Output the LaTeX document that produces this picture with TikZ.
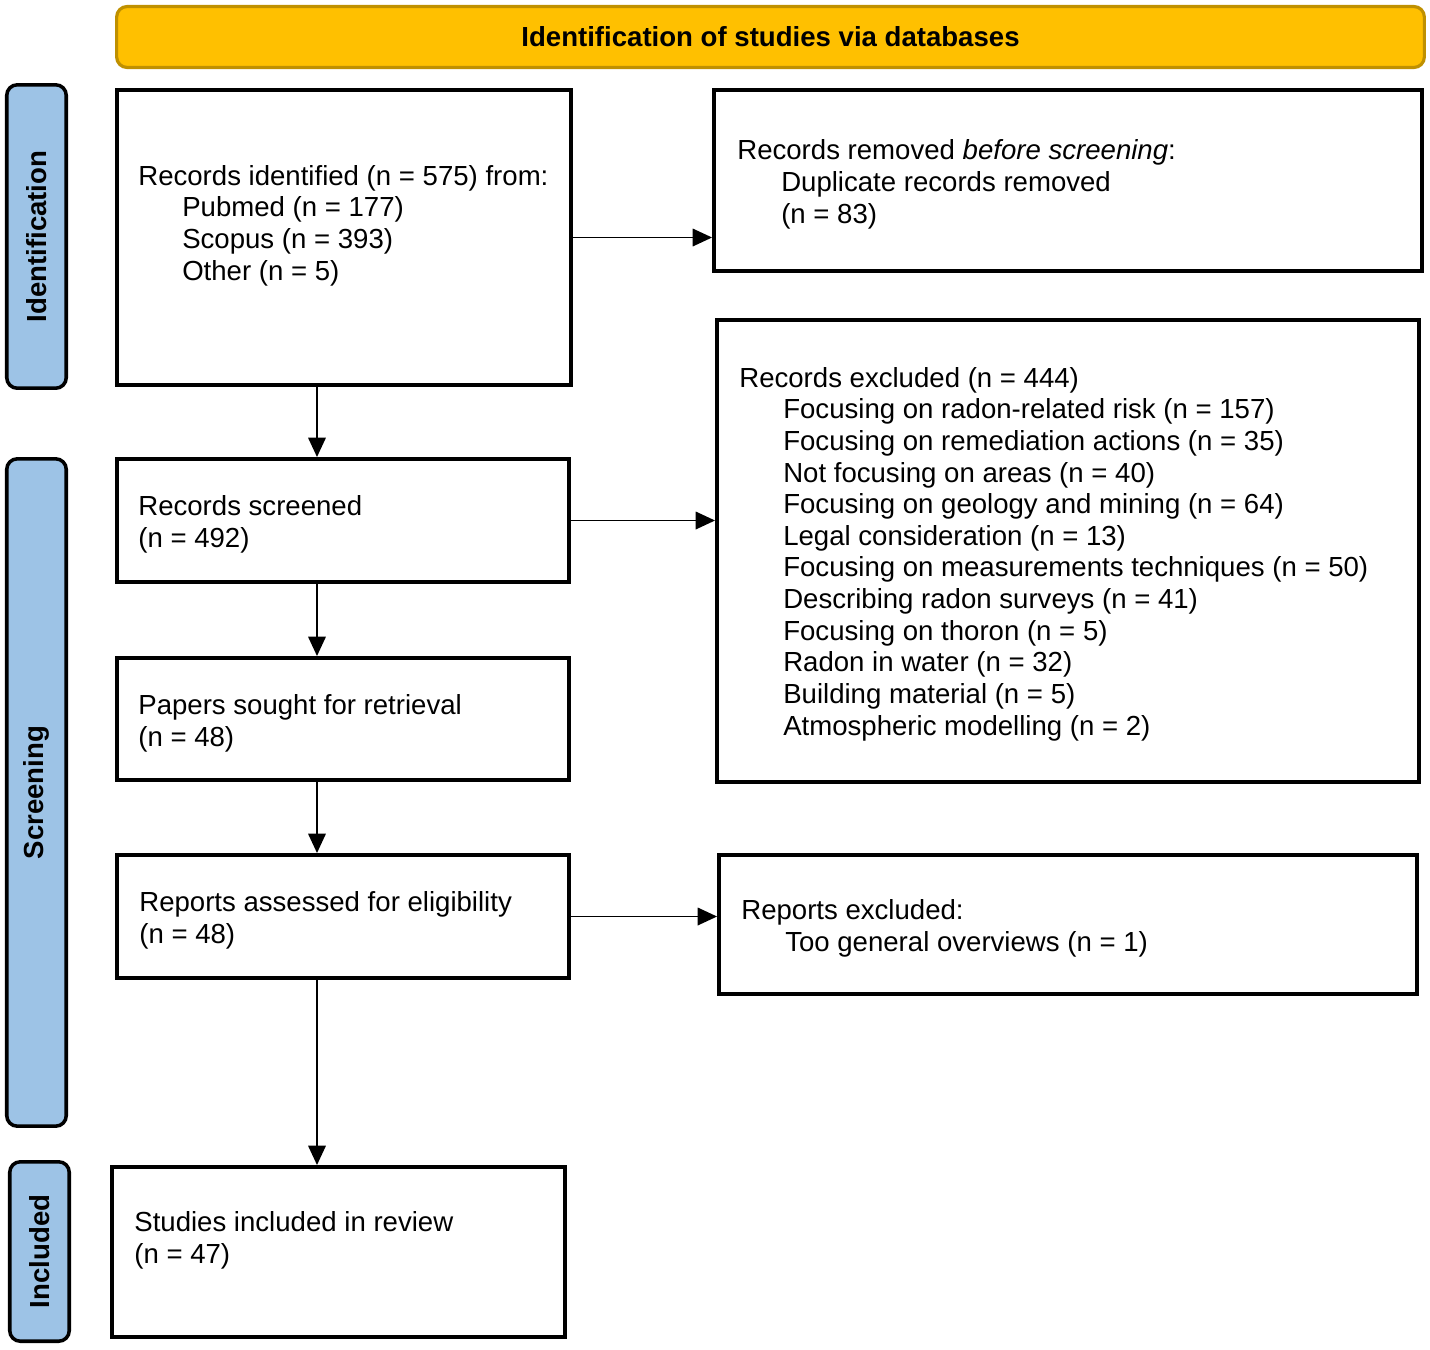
\documentclass[tikz,border=0pt]{standalone}
\usepackage{fontspec}
\setmainfont{Liberation Sans}
\usetikzlibrary{arrows.meta}
\definecolor{hdryellow}{RGB}{255,192,0}
\definecolor{hdrborder}{RGB}{191,144,0}
\definecolor{phaseblue}{RGB}{157,195,230}
\newcommand{\subind}{\hspace*{25pt}}
\begin{document}
\begin{tikzpicture}[x=0.02cm, y=-0.02cm, font=\fontsize{15.7}{18}\selectfont,
	box/.style={draw, line width=2.3pt, inner sep=0pt},
	phase/.style={draw, fill=phaseblue, line width=2pt, rounded corners=6pt, inner sep=0pt, rotate=90, font=\fontsize{15.7}{18}\selectfont\bfseries},
	boxtext/.style={anchor=base west, align=left, inner sep=0pt},
	arr/.style={line width=0.9pt, -{Triangle[length=11pt, width=10pt]}}]
		\useasboundingbox (0,0) rectangle (1430,1349);
		
		%header
		\node[draw=hdrborder, fill=hdryellow, line width=1.8pt, rounded corners=6pt, minimum width=26.16cm, minimum height=1.22cm, font=\fontsize{15.7}{18}\selectfont\bfseries] (hdr) at (770.5, 37){Identification of studies via databases};
		
		%phase bars
		\node[phase, minimum width=6.07cm, minimum height=1.19cm] (phId) at (36.5, 236.5){Identification};
		\node[phase, minimum width=13.35cm, minimum height=1.19cm] (phScr) at (36.5, 792.5){Screening};
		\node[phase, minimum width=3.59cm, minimum height=1.19cm] (phInc) at (39.5, 1251.5){Included};
		
		%boxes
		\node[box, minimum width=9.08cm, minimum height=5.90cm] (ident) at (344, 237.5){};
		\node[box, minimum width=14.16cm, minimum height=3.62cm] (removed) at (1068, 180.5){};
		\node[box, minimum width=9.04cm, minimum height=2.46cm] (screened) at (343, 520.5){};
		\node[box, minimum width=14.04cm, minimum height=9.24cm] (excluded) at (1068, 551){};
		\node[box, minimum width=9.04cm, minimum height=2.44cm] (sought) at (343, 719){};
		\node[box, minimum width=9.04cm, minimum height=2.46cm] (assessed) at (343, 916.5){};
		\node[box, minimum width=13.96cm, minimum height=2.78cm] (repexcl) at (1068, 924.5){};
		\node[box, minimum width=9.06cm, minimum height=3.40cm] (included) at (338.5, 1252){};
		
		%texts (placed by their last line)
		\node[boxtext] (identTxt) at (138, 280){Records identified (n = 575) from:\\ \subind Pubmed (n = 177)\\ \subind Scopus (n = 393)\\ \subind Other (n = 5)};
		\node[boxtext] (removedTxt) at (737, 223){Records removed \textit{before screening}:\\ \subind Duplicate records removed\\ \subind (n = 83)};
		\node[boxtext] (screenedTxt) at (138, 547){Records screened\\ (n = 492)};
		\node[boxtext] (excludedTxt) at (739, 735){Records excluded (n = 444)\\
			\subind Focusing on radon-related risk (n = 157)\\
			\subind Focusing on remediation actions (n = 35)\\
			\subind Not focusing on areas (n = 40)\\
			\subind Focusing on geology and mining (n = 64)\\
			\subind Legal consideration (n = 13)\\
			\subind Focusing on measurements techniques (n = 50)\\
			\subind Describing radon surveys (n = 41)\\
			\subind Focusing on thoron (n = 5)\\
			\subind Radon in water (n = 32)\\
			\subind Building material (n = 5)\\
			\subind Atmospheric modelling (n = 2)};
		\node[boxtext] (soughtTxt) at (138, 746){Papers sought for retrieval\\ (n = 48)};
		\node[boxtext] (assessedTxt) at (139, 943){Reports assessed for eligibility\\ (n = 48)};
		\node[boxtext] (repexclTxt) at (741, 951){Reports excluded:\\ \subind Too general overviews (n = 1)};
		\node[boxtext] (includedTxt) at (134, 1263){Studies included in review\\ (n = 47)};
		
		%arrows
		\coordinate (spine) at (317, 0);
		\draw[arr] (ident.south -| spine) -- (screened.north -| spine);
		\draw[arr] (screened.south -| spine) -- (sought.north -| spine);
		\draw[arr] (sought.south -| spine) -- (assessed.north -| spine);
		\draw[arr] (assessed.south -| spine) -- (included.north -| spine);
		\draw[arr] (ident.east) -- (ident.east -| removed.west);
		\draw[arr] (screened.east) -- (screened.east -| excluded.west);
		\draw[arr] (assessed.east) -- (assessed.east -| repexcl.west);
\end{tikzpicture}
\end{document}
